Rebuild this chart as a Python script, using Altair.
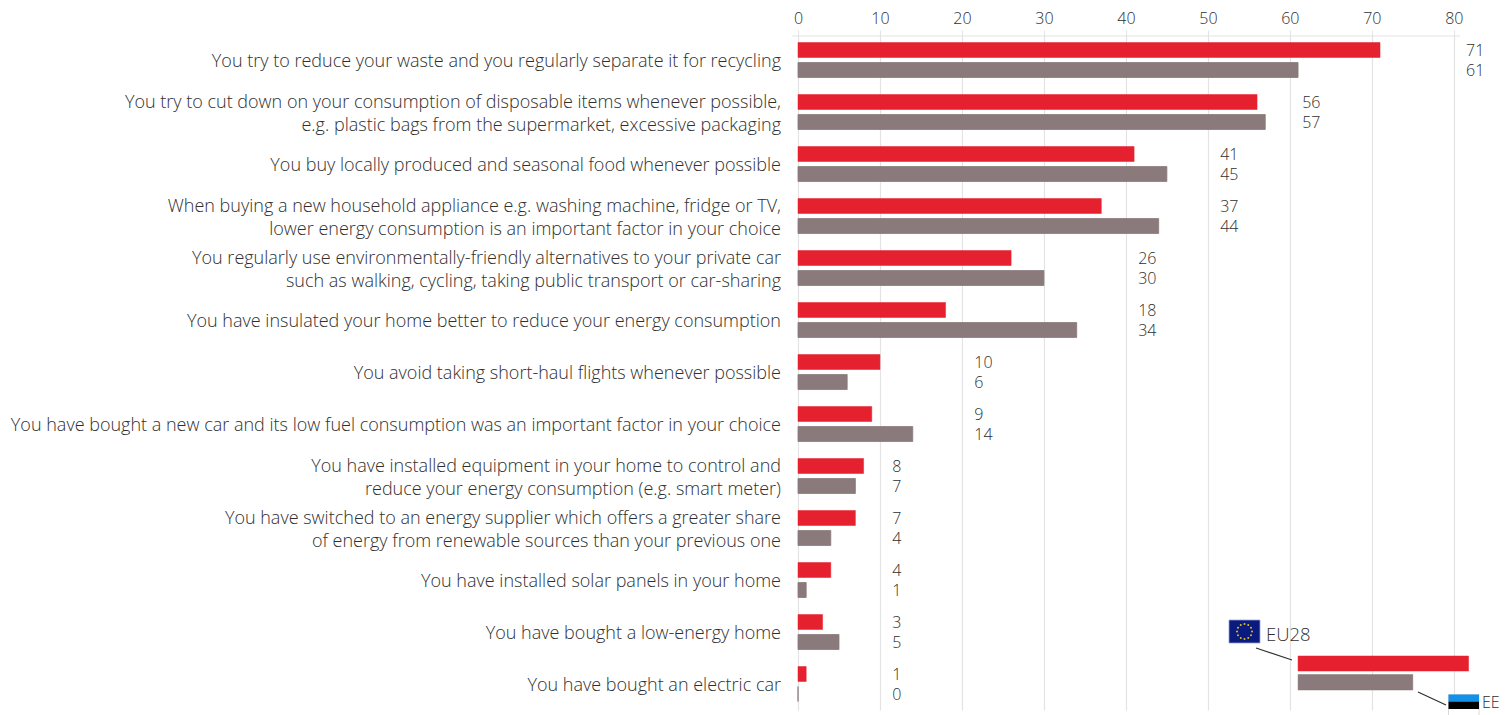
import math
import altair as alt
import pandas as pd

labels = [
    "You try to reduce your waste and you regularly separate it for recycling",
    "You try to cut down on your consumption of disposable items whenever possible,|e.g. plastic bags from the supermarket, excessive packaging",
    "You buy locally produced and seasonal food whenever possible",
    "When buying a new household appliance e.g. washing machine, fridge or TV,|lower energy consumption is an important factor in your choice",
    "You regularly use environmentally-friendly alternatives to your private car|such as walking, cycling, taking public transport or car-sharing",
    "You have insulated your home better to reduce your energy consumption",
    "You avoid taking short-haul flights whenever possible",
    "You have bought a new car and its low fuel consumption was an important factor in your choice",
    "You have installed equipment in your home to control and|reduce your energy consumption (e.g. smart meter)",
    "You have switched to an energy supplier which offers a greater share|of energy from renewable sources than your previous one",
    "You have installed solar panels in your home",
    "You have bought a low-energy home",
    "You have bought an electric car",
]
eu28 = [71, 56, 41, 37, 26, 18, 10, 9, 8, 7, 4, 3, 1]
ee = [61, 57, 45, 44, 30, 34, 6, 14, 7, 4, 1, 5, 0]
ticks = [0, 10, 20, 30, 40, 50, 60, 70, 80]
RED = "#e6212f"
GREY = "#8a7a7b"
FONT = "Open Sans"
INK = "#2f2f2f"
GRID = "#e3e3e3"

label_x = [math.floor(max(a, b) / 10 + 1) * 10 + 1.5 for a, b in zip(eu28, ee)]
df = pd.DataFrame({"label": labels, "eu28": eu28, "ee": ee, "lx": label_x})

rows = []
for lab in labels:
    parts = lab.split("|")
    for n, part in enumerate(parts):
        rows.append({"label": lab, "line": part, "slot": "only" if len(parts) == 1 else ("first" if n == 0 else "second")})
lines_df = pd.DataFrame(rows)

W, H = 664, 676
xs = alt.Scale(domain=[0, 81], nice=False, zero=True)
ys = alt.Scale(domain=labels, paddingInner=0, paddingOuter=0)
base = alt.Chart(df)
Y = alt.Y("label:N", scale=ys, sort=None, title=None, axis=None)
X = alt.X(
    "eu28:Q", scale=xs, title=None,
    axis=alt.Axis(
        orient="top", values=ticks, format="d", labelFont=FONT, labelFontSize=16, labelFontWeight=300,
        labelColor=INK, labelPadding=4, tickSize=4, tickColor=GRID, domain=False, labelFlush=False,
        grid=True, gridColor=GRID, gridWidth=1.2, labelAngle=0,
    ),
)

red = base.mark_bar(size=15, yOffset=-10, color=RED, stroke=RED, strokeWidth=0.5).encode(x=X, y=Y)
grey = base.mark_bar(size=15, yOffset=10, color=GREY, stroke=GREY, strokeWidth=0.8).encode(x="ee:Q", y=Y)
tr = base.mark_text(align="left", baseline="middle", yOffset=-9, font=FONT, fontSize=16, fontWeight=300, color=INK).encode(
    x="lx:Q", y=Y, text="eu28:Q")
tg = base.mark_text(align="left", baseline="middle", yOffset=11, font=FONT, fontSize=16, fontWeight=300, color=INK).encode(
    x="lx:Q", y=Y, text="ee:Q")

cat_layers = []
for slot, off in [("only", 1.5), ("first", -9.5), ("second", 13.5)]:
    cat_layers.append(
        alt.Chart(lines_df[lines_df.slot == slot]).mark_text(
            align="right", baseline="middle", dx=-17, yOffset=off, font=FONT, fontSize=18, fontWeight=300, color=INK
        ).encode(x=alt.datum(0, scale=xs), y=Y, text="line:N")
    )

L, T = 798, 34  # plot origin in the page


def px(v):
    return alt.value(v - L)


def py(v):
    return alt.value(v - T)


one = alt.Chart(pd.DataFrame({"a": [0]}))


def box(x0, x1, y0, y1, fill, stroke=None):
    kw = {"stroke": stroke, "strokeWidth": 0.8} if stroke else {}
    return one.mark_rect(color=fill, **kw).encode(x=px(x0), x2=px(x1), y=py(y0), y2=py(y1))


def line(x0, y0, x1, y1, color=INK, w=1.2):
    return one.mark_rule(color=color, strokeWidth=w).encode(x=px(x0), x2=px(x1), y=py(y0), y2=py(y1))


def note(s, x, y, size=18.5):
    return one.mark_text(text=s, align="left", baseline="middle", font=FONT, fontSize=size, fontWeight=300, color=INK).encode(
        x=px(x), y=py(y))


axis_line = line(792, 36, 1460, 36, GRID, 1.2)

legend_df = pd.DataFrame({"s": [61.0, 61.0], "e": [81.8, 75.0], "name": ["EU28", "EE"]})
leg_red = alt.Chart(legend_df[legend_df.name == "EU28"]).mark_bar(color=RED, stroke=RED, strokeWidth=0.5).encode(
    x="s:Q", x2="e:Q", y=py(656), y2=py(671))
leg_grey = alt.Chart(legend_df[legend_df.name == "EE"]).mark_bar(color=GREY, stroke=GREY, strokeWidth=0.5).encode(
    x="s:Q", x2="e:Q", y=py(674.5), y2=py(690))

deco = [
    line(1256, 648, 1292, 660), line(1418, 692, 1446, 705),
    box(1229, 1260, 620, 643, "#0b1a7e", "#9a9fd0"),
    note("EU28", 1266, 634.5),
    box(1448.5, 1479, 694.5, 725, "#ffffff", "#cfcfcf"),
    box(1448.5, 1479, 694.5, 701.5, "#1291e8"), box(1448.5, 1479, 701.5, 709, "#000000"),
    note("EE", 1482, 703, 16),
]
for k in range(12):
    a = 2 * math.pi * k / 12
    deco.append(one.mark_point(filled=True, color="#d9c11e", size=4, opacity=1).encode(
        x=px(1244.5 + 7.5 * math.sin(a)), y=py(631.5 - 7.5 * math.cos(a))))

chart = alt.layer(axis_line, red, grey, tr, tg, *cat_layers, leg_red, leg_grey, *deco).properties(
    width=W, height=H,
    padding={"left": L - 8, "top": T - 8, "right": 40, "bottom": 5},
    autosize=alt.AutoSizeParams(type="none"),
    background="white",
).configure_view(stroke=None)

chart.save("out.html", embed_options={"renderer": "svg", "actions": False})
